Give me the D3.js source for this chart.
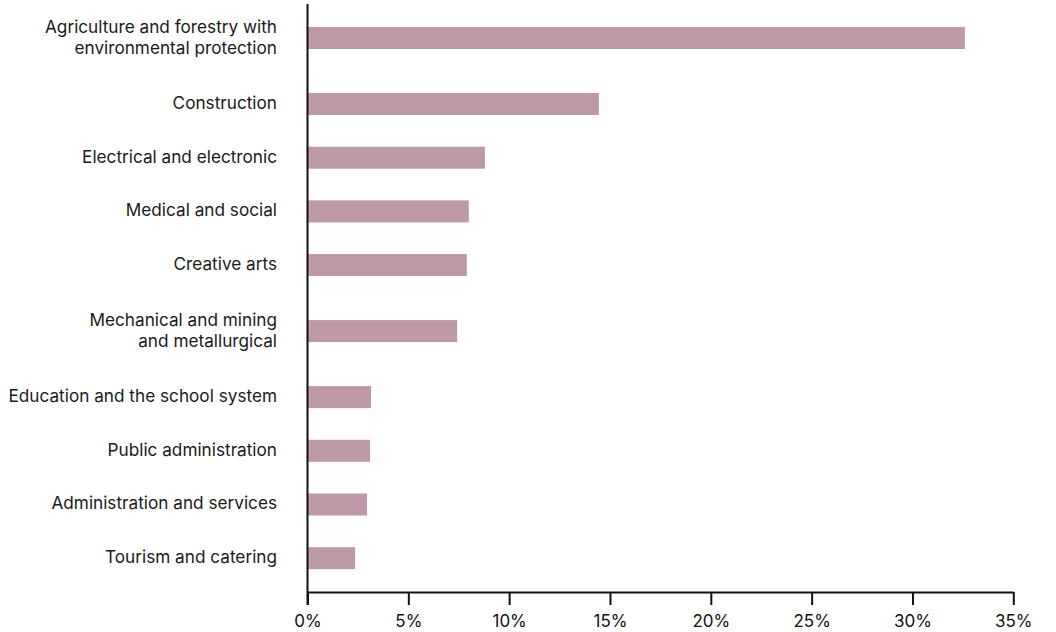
<!DOCTYPE html>
<html><head><meta charset="utf-8">
<script src="https://cdn.jsdelivr.net/npm/d3@7"></script>
<style>html,body{margin:0;padding:0;background:#fff;}svg{display:block;}</style>
</head><body>
<script>
const categories = [
  ["Agriculture and forestry with", "environmental protection"],
  ["Construction"],
  ["Electrical and electronic"],
  ["Medical and social"],
  ["Creative arts"],
  ["Mechanical and mining", "and metallurgical"],
  ["Education and the school system"],
  ["Public administration"],
  ["Administration and services"],
  ["Tourism and catering"]
];
const values = [32.6, 14.45, 8.8, 8.0, 7.9, 7.42, 3.15, 3.1, 2.95, 2.36];
const tickValues = [0, 5, 10, 15, 20, 25, 30, 35];
const tickLabels = ["0%", "5%", "10%", "15%", "20%", "25%", "30%", "35%"];

const W = 1056, H = 632;
const left = 307.5, right = 1013.3, axisY = 592;
const font = "Inter, 'Noto Sans', sans-serif";

const svg = d3.select("body").append("svg").attr("width", W).attr("height", H);

const x = d3.scaleLinear().domain([0, 35]).range([left, right]);

// row weights: two-line labels take more room
const weights = categories.map(c => c.length > 1 ? 1.46 : 1);
const cum = [];
weights.reduce((a, w, i) => { cum[i] = a; return a + w; }, 0);
const total = d3.sum(weights);
const y = d3.scaleLinear().domain([0, total]).range([-1.2, 585]);
const barH = 22;

const rows = categories.map((c, i) => ({ label: c, value: values[i], center: y(cum[i] + weights[i] / 2) }));

svg.append("g").selectAll("rect").data(rows).join("rect")
  .attr("x", x(0))
  .attr("y", d => d.center - barH / 2)
  .attr("width", d => x(d.value) - x(0))
  .attr("height", barH)
  .attr("fill", "#be99a7");

// labels
const lh = 21;
svg.append("g").selectAll("text").data(rows).join("text")
  .attr("text-anchor", "end")
  .attr("font-family", font)
  .attr("font-size", 17.2)
  .attr("fill", "#1a1a1a")
  .each(function(d) {
    const t = d3.select(this);
    const n = d.label.length;
    d.label.forEach((line, k) => {
      t.append("tspan")
        .attr("x", 277)
        .attr("y", d.center - 1 + (k - (n - 1) / 2) * lh)
        .attr("dy", "0.35em")
        .text(line);
    });
  });

// x axis
const xAxis = d3.axisBottom(x).tickValues(tickValues).tickSize(13).tickSizeOuter(0)
  .tickFormat((d, i) => tickLabels[i]);
const gx = svg.append("g").attr("transform", `translate(0,${axisY})`).call(xAxis);
gx.select(".domain").attr("stroke", "#111").attr("stroke-width", 2);
gx.selectAll(".tick line").attr("stroke", "#111").attr("stroke-width", 2);
gx.selectAll(".tick text").attr("font-family", font).attr("font-size", 17).attr("fill", "#111").attr("dy", "1.1em");

// y axis line
svg.append("line").attr("x1", left).attr("x2", left).attr("y1", 4).attr("y2", axisY + 13)
  .attr("stroke", "#111").attr("stroke-width", 2);
</script>
</body></html>
